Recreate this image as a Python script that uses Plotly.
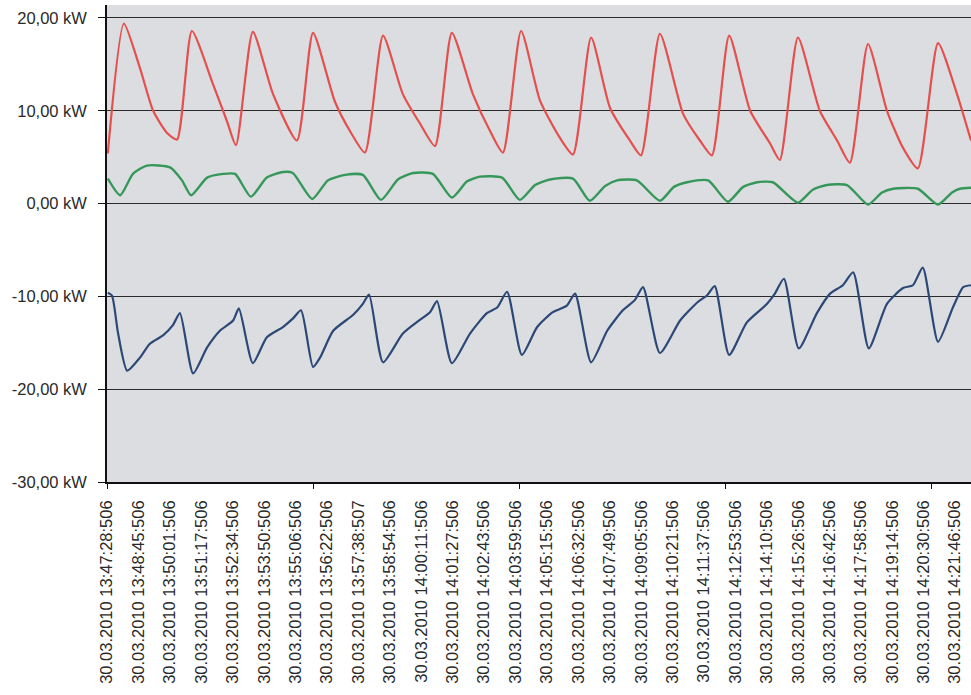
import plotly.graph_objects as go
from datetime import datetime

# Tick labels (x axis)
tick_labels = [
    "30.03.2010 13:47:28:506", "30.03.2010 13:48:45:506", "30.03.2010 13:50:01:506",
    "30.03.2010 13:51:17:506", "30.03.2010 13:52:34:506", "30.03.2010 13:53:50:506",
    "30.03.2010 13:55:06:506", "30.03.2010 13:56:22:506", "30.03.2010 13:57:38:507",
    "30.03.2010 13:58:54:506", "30.03.2010 14:00:11:506", "30.03.2010 14:01:27:506",
    "30.03.2010 14:02:43:506", "30.03.2010 14:03:59:506", "30.03.2010 14:05:15:506",
    "30.03.2010 14:06:32:506", "30.03.2010 14:07:49:506", "30.03.2010 14:09:05:506",
    "30.03.2010 14:10:21:506", "30.03.2010 14:11:37:506", "30.03.2010 14:12:53:506",
    "30.03.2010 14:14:10:506", "30.03.2010 14:15:26:506", "30.03.2010 14:16:42:506",
    "30.03.2010 14:17:58:506", "30.03.2010 14:19:14:506", "30.03.2010 14:20:30:506",
    "30.03.2010 14:21:46:506",
]
y_tick_vals = [20, 10, 0, -10, -20, -30]
y_tick_text = ["20,00 kW", "10,00 kW", "0,00 kW", "-10,00 kW", "-20,00 kW", "-30,00 kW"]

# Series: seconds since 13:47:28.506 and power in kW
red_t = [2, 41, 80, 112, 146, 170, 206, 257, 291, 313, 354, 403, 461, 500, 553, 590, 626,
         670, 718, 760, 796, 837, 888, 930, 961, 1005, 1051, 1099, 1131, 1175, 1221, 1269,
         1296, 1342, 1398, 1439, 1468, 1510, 1561, 1609, 1633, 1677, 1730, 1772, 1803,
         1847, 1893, 1932, 1968, 2017, 2063, 2097]
red_kw = [5.4, 19.4, 14.6, 10.0, 7.6, 6.9, 18.6, 12.9, 8.9, 6.3, 18.5, 11.8, 6.8, 18.4, 11.0,
          7.8, 5.5, 18.1, 11.8, 8.6, 6.2, 18.4, 11.8, 7.8, 5.5, 18.6, 11.1, 7.1, 5.3, 17.9,
          10.3, 6.8, 5.2, 18.3, 9.7, 6.8, 5.2, 18.1, 10.0, 6.5, 4.7, 17.9, 10.0, 6.8, 4.4,
          17.2, 10.0, 6.0, 3.8, 17.3, 11.8, 6.8]

green_t = [2, 32, 63, 97, 153, 182, 204, 243, 282, 311, 349, 388, 427, 451, 498, 536, 578,
           621, 665, 706, 743, 791, 837, 874, 905, 959, 1002, 1039, 1075, 1131, 1172, 1209,
           1238, 1286, 1342, 1376, 1408, 1459, 1507, 1544, 1578, 1616, 1677, 1713, 1747,
           1796, 1847, 1881, 1908, 1968, 2017, 2051, 2070, 2097]
green_kw = [2.7, 0.9, 3.2, 4.1, 3.9, 2.5, 0.9, 2.8, 3.2, 3.2, 0.75, 2.8, 3.4, 3.3, 0.5, 2.5,
            3.1, 3.1, 0.4, 2.6, 3.3, 3.2, 0.65, 2.4, 2.9, 2.8, 0.4, 2.0, 2.6, 2.7, 0.3, 1.9,
            2.5, 2.5, 0.3, 1.8, 2.3, 2.5, 0.2, 1.8, 2.3, 2.3, 0.1, 1.5, 2.0, 2.0, -0.1, 1.2,
            1.6, 1.6, -0.1, 1.2, 1.6, 1.7]

blue_t = [2, 12, 27, 49, 80, 104, 136, 160, 177, 209, 243, 274, 306, 320, 354, 388, 427, 451,
          471, 500, 517, 549, 597, 621, 636, 670, 718, 760, 784, 801, 837, 881, 922, 947, 971,
          1007, 1044, 1082, 1116, 1136, 1175, 1214, 1252, 1281, 1301, 1342, 1391, 1434, 1456,
          1475, 1510, 1553, 1602, 1621, 1643, 1679, 1723, 1755, 1786, 1811, 1849, 1893, 1932,
          1956, 1980, 2017, 2053, 2078, 2097]
blue_kw = [-9.6, -9.9, -14.0, -18.0, -16.6, -15.1, -14.2, -13.1, -11.8, -18.3, -15.5, -13.7,
           -12.6, -11.3, -17.2, -14.4, -13.3, -12.4, -11.5, -17.6, -16.6, -13.7, -12.0, -10.8,
           -9.8, -17.1, -14.0, -12.5, -11.7, -10.5, -17.2, -14.0, -11.8, -11.2, -9.5, -16.3,
           -13.3, -11.7, -11.0, -9.7, -17.1, -13.7, -11.5, -10.4, -9.0, -16.1, -12.6, -10.6,
           -9.9, -8.9, -16.3, -12.8, -10.8, -9.7, -8.1, -15.6, -11.8, -9.7, -8.8, -7.4, -15.6,
           -10.8, -9.1, -8.8, -6.9, -14.9, -11.2, -9.0, -8.8]

t0 = datetime.strptime(tick_labels[0], "%d.%m.%Y %H:%M:%S:%f")
tick_vals = [(datetime.strptime(s, "%d.%m.%Y %H:%M:%S:%f") - t0).total_seconds() for s in tick_labels]

fig = go.Figure()
fig.add_trace(go.Scatter(x=red_t, y=red_kw, mode="lines",
                         line=dict(color="#e4504e", width=2.2, shape="spline", smoothing=0.6)))
fig.add_trace(go.Scatter(x=green_t, y=green_kw, mode="lines",
                         line=dict(color="#35985a", width=2.4, shape="spline", smoothing=0.6)))
fig.add_trace(go.Scatter(x=blue_t, y=blue_kw, mode="lines",
                         line=dict(color="#2b4877", width=2.2, shape="spline", smoothing=0.6)))

font = dict(family="Liberation Sans, Arial, sans-serif", size=16.5, color="#2a2a2a")
fig.update_layout(
    width=971, height=695,
    margin=dict(l=107, r=0, t=5, b=213),
    paper_bgcolor="white",
    plot_bgcolor="#dcdde0",
    showlegend=False,
    font=font,
)
fig.update_xaxes(
    automargin=False,
    range=[0, 2097],
    tickvals=tick_vals, ticktext=tick_labels, tickangle=-90,
    ticks="", ticklabelstandoff=10,
    showgrid=False, zeroline=False,
    showline=True, linecolor="#111", linewidth=1.5,
    minor=dict(ticks="outside", dtick=500, tick0=0, ticklen=5, tickcolor="#111", showgrid=False),
    tickfont=font,
)
fig.update_yaxes(
    automargin=False,
    range=[-30, 21.4],
    tickvals=y_tick_vals, ticktext=y_tick_text,
    ticks="outside", ticklen=7, tickcolor="#111", ticklabelstandoff=8,
    showgrid=True, gridcolor="#2a2a2a", gridwidth=1.4,
    zeroline=False,
    showline=True, linecolor="#111", linewidth=1.5,
    tickfont=font,
)
fig.write_html(
    "out.html",
    config={"displayModeBar": False},
    post_script="document.body.style.margin='0px';document.body.style.overflow='hidden';",
)
